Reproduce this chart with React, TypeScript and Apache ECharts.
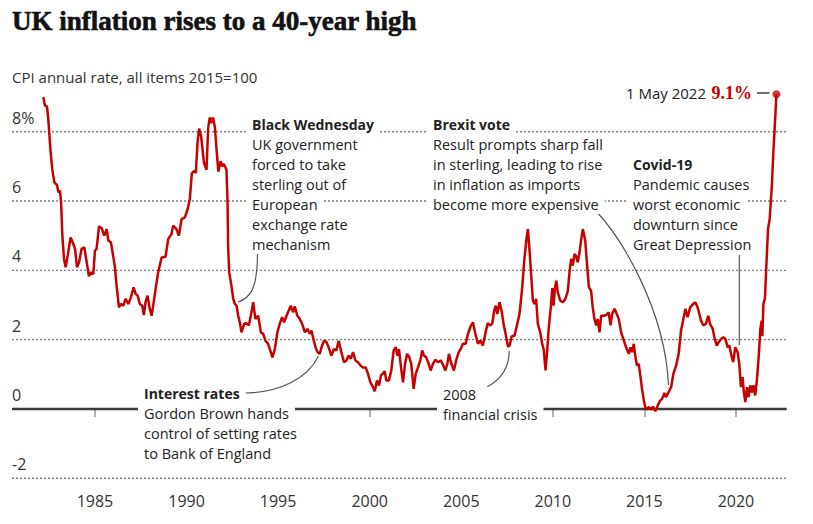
import React, { useEffect, useRef } from 'react';
import * as echarts from 'echarts';

// Decimal year of each reading and CPI annual rate (%)
const dates = [
  1982.18, 1982.27, 1982.38, 1982.45, 1982.58, 1982.67, 1982.78, 1982.93, 1983.0, 1983.09, 1983.15, 1983.22, 1983.31, 1983.4,
  1983.51, 1983.67, 1983.82, 1983.91, 1984.02, 1984.13, 1984.27, 1984.42, 1984.55, 1984.67, 1984.78, 1984.91, 1985.0, 1985.09,
  1985.22, 1985.37, 1985.51, 1985.64, 1985.73, 1985.87, 1986.02, 1986.09, 1986.18, 1986.31, 1986.42, 1986.55, 1986.67, 1986.82,
  1986.96, 1987.11, 1987.22, 1987.33, 1987.45, 1987.58, 1987.67, 1987.76, 1987.87, 1987.98, 1988.09, 1988.18, 1988.31, 1988.45,
  1988.64, 1988.85, 1989.0, 1989.18, 1989.27, 1989.45, 1989.58, 1989.73, 1989.91, 1990.06, 1990.18, 1990.29, 1990.42, 1990.51,
  1990.6, 1990.69, 1990.8, 1990.95, 1991.09, 1991.18, 1991.27, 1991.35, 1991.45, 1991.55, 1991.65, 1991.74, 1991.86, 1991.95,
  1992.04, 1992.18, 1992.24, 1992.27, 1992.33, 1992.45, 1992.55, 1992.64, 1992.73, 1992.82, 1992.91, 1993.0, 1993.15, 1993.27,
  1993.4, 1993.51, 1993.64, 1993.76, 1993.91, 1994.06, 1994.18, 1994.31, 1994.45, 1994.6, 1994.69, 1994.82, 1994.96, 1995.09,
  1995.22, 1995.33, 1995.46, 1995.58, 1995.69, 1995.82, 1995.91, 1996.05, 1996.18, 1996.31, 1996.46, 1996.6, 1996.73, 1996.82,
  1996.93, 1997.04, 1997.15, 1997.27, 1997.4, 1997.51, 1997.64, 1997.76, 1997.91, 1998.05, 1998.18, 1998.31, 1998.45, 1998.6,
  1998.73, 1998.85, 1998.97, 1999.09, 1999.22, 1999.36, 1999.51, 1999.62, 1999.78, 1999.91, 2000.04, 2000.18, 2000.27, 2000.4,
  2000.51, 2000.62, 2000.73, 2000.82, 2000.91, 2001.05, 2001.18, 2001.31, 2001.42, 2001.51, 2001.6, 2001.71, 2001.82, 2001.93,
  2002.04, 2002.15, 2002.27, 2002.4, 2002.51, 2002.64, 2002.77, 2002.87, 2002.96, 2003.09, 2003.22, 2003.33, 2003.45, 2003.58,
  2003.73, 2003.88, 2004.0, 2004.13, 2004.24, 2004.33, 2004.46, 2004.6, 2004.73, 2004.86, 2004.97, 2005.09, 2005.24, 2005.37,
  2005.51, 2005.64, 2005.77, 2005.91, 2006.04, 2006.18, 2006.33, 2006.44, 2006.59, 2006.69, 2006.8, 2006.88, 2006.97, 2007.09,
  2007.2, 2007.31, 2007.42, 2007.55, 2007.64, 2007.75, 2007.91, 2008.06, 2008.18, 2008.33, 2008.44, 2008.55, 2008.64, 2008.73,
  2008.84, 2008.91, 2009.0, 2009.09, 2009.18, 2009.31, 2009.42, 2009.51, 2009.6, 2009.68, 2009.78, 2009.89, 2009.97, 2010.04,
  2010.11, 2010.19, 2010.27, 2010.4, 2010.55, 2010.69, 2010.82, 2010.91, 2011.0, 2011.09, 2011.18, 2011.27, 2011.36, 2011.46,
  2011.55, 2011.64, 2011.77, 2011.88, 2011.97, 2012.09, 2012.18, 2012.27, 2012.37, 2012.45, 2012.55, 2012.64, 2012.77, 2012.91,
  2013.05, 2013.15, 2013.24, 2013.37, 2013.49, 2013.6, 2013.73, 2013.85, 2014.0, 2014.15, 2014.24, 2014.33, 2014.42, 2014.51,
  2014.6, 2014.69, 2014.79, 2014.87, 2014.97, 2015.09, 2015.24, 2015.37, 2015.46, 2015.6, 2015.73, 2015.86, 2015.97, 2016.09,
  2016.18, 2016.31, 2016.46, 2016.58, 2016.73, 2016.87, 2017.0, 2017.13, 2017.24, 2017.36, 2017.5, 2017.67, 2017.78, 2017.91,
  2018.0, 2018.09, 2018.22, 2018.36, 2018.49, 2018.58, 2018.73, 2018.82, 2018.95, 2019.06, 2019.19, 2019.31, 2019.42, 2019.55,
  2019.64, 2019.73, 2019.85, 2019.96, 2020.09, 2020.18, 2020.27, 2020.36, 2020.42, 2020.51, 2020.6, 2020.69, 2020.78, 2020.87,
  2020.96, 2021.05, 2021.14, 2021.24, 2021.33, 2021.4, 2021.44, 2021.5, 2021.58, 2021.66, 2021.75, 2021.84, 2021.96, 2022.04,
  2022.13, 2022.21,
];

const cpi = [
  9.0, 8.75, 8.73, 8.36, 7.4, 6.92, 6.54, 6.46, 6.25, 6.3, 5.96, 5.0, 4.33, 4.09,
  4.42, 4.95, 4.76, 4.62, 4.09, 4.23, 4.62, 4.66, 4.23, 3.83, 3.94, 3.9, 4.57, 4.62,
  5.27, 5.21, 5.0, 5.19, 4.86, 4.81, 4.33, 4.09, 3.56, 2.93, 3.03, 2.98, 3.18, 3.03,
  3.22, 3.51, 3.32, 3.27, 3.03, 2.98, 2.71, 3.08, 3.27, 2.93, 2.69, 2.98, 3.46, 3.94,
  4.37, 4.39, 4.9, 5.05, 5.29, 5.19, 5.0, 5.48, 5.53, 5.77, 6.06, 6.8, 6.87, 6.81,
  7.7, 8.09, 7.85, 7.11, 6.9, 8.1, 8.41, 8.25, 8.41, 8.12, 7.4, 6.85, 7.15, 7.0,
  7.07, 6.9, 5.96, 4.71, 3.94, 3.56, 3.18, 3.03, 2.98, 2.69, 2.5, 2.21, 2.46, 2.48,
  2.41, 2.69, 3.08, 2.6, 2.69, 2.21, 2.17, 1.97, 1.88, 1.64, 1.49, 1.73, 2.21, 2.46,
  2.65, 2.5, 2.69, 2.84, 2.98, 2.79, 2.96, 2.69, 2.6, 2.46, 2.21, 2.31, 2.17, 2.26,
  2.02, 1.78, 1.64, 1.59, 1.83, 1.97, 1.93, 1.78, 1.54, 1.73, 1.69, 1.97, 1.64, 1.35,
  1.4, 1.54, 1.45, 1.64, 1.4, 1.35, 1.25, 1.2, 1.2, 1.01, 0.77, 0.63, 0.51, 0.82,
  0.68, 0.97, 1.03, 1.09, 0.82, 0.82, 1.11, 1.69, 1.78, 1.54, 1.73, 1.2, 0.77, 1.3,
  1.59, 1.51, 1.3, 0.58, 1.01, 1.2, 1.42, 1.69, 1.54, 1.49, 1.3, 1.11, 1.3, 1.42,
  1.35, 1.4, 1.28, 1.11, 1.3, 1.59, 1.3, 1.11, 1.42, 1.64, 1.73, 1.88, 1.88, 2.17,
  2.38, 2.5, 2.17, 1.88, 1.97, 1.83, 2.21, 2.47, 2.41, 2.46, 2.84, 2.98, 2.74, 3.08,
  2.84, 2.46, 2.17, 1.8, 1.83, 2.09, 2.12, 2.46, 2.74, 3.51, 4.28, 4.86, 5.19, 4.57,
  3.7, 3.13, 3.03, 3.18, 2.46, 2.21, 1.88, 1.69, 1.11, 1.59, 2.36, 2.93, 3.49, 2.98,
  3.46, 3.7, 3.37, 3.13, 3.08, 3.18, 3.41, 3.94, 4.33, 4.14, 4.47, 4.42, 4.23, 4.52,
  4.9, 5.19, 4.86, 4.09, 3.51, 3.41, 2.93, 2.6, 2.41, 2.6, 2.21, 2.69, 2.69, 2.71,
  2.79, 2.41, 2.74, 2.89, 2.74, 2.6, 2.21, 2.02, 1.78, 1.59, 1.78, 1.64, 1.88, 1.49,
  1.25, 1.3, 0.92, 0.58, 0.24, -0.02, 0.05, -0.02, 0.07, -0.06, 0.1, 0.24, 0.29, 0.46,
  0.34, 0.48, 0.63, 1.01, 1.25, 1.59, 2.26, 2.6, 2.89, 2.65, 2.93, 3.03, 3.08, 2.93,
  2.74, 2.55, 2.41, 2.46, 2.69, 2.46, 2.31, 2.07, 1.83, 1.93, 2.02, 2.07, 2.02, 1.78,
  1.83, 1.59, 1.35, 1.78, 1.64, 1.3, 0.63, 0.92, 0.53, 0.2, 0.63, 0.34, 0.68, 0.48,
  0.68, 0.39, 0.82, 1.5, 2.3, 2.55, 2.1, 3.05, 3.18, 4.14, 5.19, 5.48, 6.44, 7.4,
  8.27, 9.08,
];

const yTickValues = [-2, 0, 2, 4, 6, 8];
const dottedLevels = [-2, 2, 4, 6, 8];
const xTickYears = [1985, 1990, 1995, 2000, 2005, 2010, 2015, 2020];
const xMin = 1980.47;
const xMax = 2022.77;

const titleText = 'UK inflation rises to a 40-year high';
const subtitleText = 'CPI annual rate, all items 2015=100';
const latestDateLabel = '1 May 2022';
const latestValueLabel = '9.1%';

const notes = {
  blackWednesday: ['Black Wednesday', 'UK government', 'forced to take', 'sterling out of', 'European', 'exchange rate', 'mechanism'],
  brexit: ['Brexit vote', 'Result prompts sharp fall', 'in sterling, leading to rise', 'in inflation as imports', 'become more expensive'],
  covid: ['Covid-19', 'Pandemic causes', 'worst economic', 'downturn since', 'Great Depression'],
  interest: ['Interest rates', 'Gordon Brown hands', 'control of setting rates', 'to Bank of England'],
  crisis: ['2008', 'financial crisis'],
};

const SANS = "'Open Sans', 'Noto Sans', sans-serif";
const SERIF = "'Liberation Serif', serif";
const RED = '#c70000';
const INK = '#222222';

function noteLines(lines: string[], x: number, y0: number, step: number, boldFirst: boolean) {
  return lines.map((t, i) => {
    const head = boldFirst && i === 0;
    return {
      type: 'text',
      z: 100,
      silent: true,
      style: {
        text: t,
        x,
        y: y0 + i * step,
        fill: INK,
        font: head ? `bold 14px ${SANS}` : `normal 14.5px ${SANS}`,
        verticalAlign: 'middle',
        align: 'left',
        lineHeight: 20,
        backgroundColor: '#ffffff',
        padding: [0, 6, 0, 6],
      },
    };
  });
}

function curve(x1: number, y1: number, cpx1: number, cpy1: number, cpx2: number, cpy2: number, x2: number, y2: number) {
  return {
    type: 'bezierCurve',
    z: 99,
    silent: true,
    shape: { x1, y1, cpx1, cpy1, cpx2, cpy2, x2, y2 },
    style: { stroke: '#555', lineWidth: 1.2, fill: 'none' },
  };
}

export default function App() {
  const ref = useRef<HTMLDivElement>(null);

  useEffect(() => {
    if (!ref.current) return;
    const chart = echarts.init(ref.current, null, { renderer: 'svg' });
    const lineData = dates.map((d, i) => [d, cpi[i]]);
    const last = lineData[lineData.length - 1];

    const gridSeries: any[] = dottedLevels.map((v) => ({
      type: 'line',
      data: [[xMin, v], [xMax, v]],
      symbol: 'none',
      silent: true,
      z: 1,
      lineStyle: { color: '#7f7f7f', width: 1.4, type: [2, 2] },
    }));
    gridSeries.push({
      type: 'line',
      data: [[xMin, 0], [xMax, 0]],
      symbol: 'none',
      silent: true,
      z: 1,
      lineStyle: { color: '#3a3a3a', width: 2.6 },
    });

    const option: any = {
      animation: false,
      grid: { left: 12, right: 26.3, top: 79.7, bottom: 45.7, outerBoundsMode: 'none' },
      xAxis: {
        type: 'value',
        min: xMin,
        max: xMax,
        axisLine: { show: false },
        splitLine: { show: false },
        axisTick: { show: true, customValues: xTickYears, length: 8, lineStyle: { color: '#999', width: 1.5 } },
        axisLabel: {
          customValues: xTickYears,
          formatter: (v: number) => String(v),
          color: '#333',
          fontSize: 16,
          fontFamily: SANS,
          margin: 15,
        },
      },
      yAxis: {
        type: 'value',
        min: -2,
        max: 9.5,
        axisLine: { show: false },
        axisTick: { show: false },
        splitLine: { show: false },
        axisLabel: {
          customValues: yTickValues,
          inside: true,
          margin: 0,
          formatter: (v: number) => (v === 8 ? '8%' : String(v)),
          color: '#333',
          fontSize: 16,
          fontFamily: SANS,
          verticalAlign: 'bottom',
          padding: [0, 0, 6, 0],
        },
      },
      series: [
        ...gridSeries,
        {
          type: 'line',
          data: lineData,
          symbol: 'none',
          z: 3,
          lineStyle: { color: RED, width: 2.5 },
        },
        {
          type: 'scatter',
          data: [last],
          symbol: 'circle',
          symbolSize: 8,
          z: 4,
          itemStyle: { color: RED },
        },
      ],
      graphic: [
        {
          type: 'text',
          z: 100,
          style: {
            text: titleText, x: 12, y: 21, font: `bold 27px ${SERIF}`, fill: '#121212',
            stroke: '#121212', lineWidth: 0.6, verticalAlign: 'middle',
          },
        },
        {
          type: 'text',
          z: 100,
          style: { text: subtitleText, x: 12, y: 77, font: `normal 15px ${SANS}`, fill: '#333', verticalAlign: 'middle' },
        },
        ...noteLines(notes.blackWednesday, 246, 124, 20, true),
        ...noteLines(notes.brexit, 427, 124, 20, true),
        ...noteLines(notes.covid, 627, 164, 20, true),
        ...noteLines(notes.interest, 138, 393, 20, true),
        ...noteLines(notes.crisis, 437, 394, 20.5, false),
        curve(257.5, 253, 257.5, 290, 250, 298, 238, 302),
        curve(595, 210, 622, 238, 665, 310, 668.5, 385),
        curve(243, 393, 280, 393, 308, 378, 318.5, 356),
        curve(487.3, 386.7, 500, 380, 509, 368, 509.3, 351),
        {
          type: 'line',
          z: 99,
          silent: true,
          shape: { x1: 739.3, y1: 255, x2: 739.3, y2: 345 },
          style: { stroke: '#555', lineWidth: 1.2 },
        },
        {
          type: 'line',
          z: 99,
          silent: true,
          shape: { x1: 757, y1: 93, x2: 769.5, y2: 93 },
          style: { stroke: '#333', lineWidth: 1.4 },
        },
        {
          type: 'text',
          z: 100,
          style: { text: latestDateLabel, x: 706, y: 93, font: `normal 15px ${SANS}`, fill: INK, align: 'right', verticalAlign: 'middle' },
        },
        {
          type: 'text',
          z: 100,
          style: { text: latestValueLabel, x: 752, y: 93, font: `bold 18px ${SERIF}`, fill: RED, align: 'right', verticalAlign: 'middle' },
        },
      ],
    };

    chart.setOption(option);
    return () => chart.dispose();
  }, []);

  return <div ref={ref} style={{ position: 'fixed', left: 0, top: 0, width: 813, height: 524, background: '#fff' }} />;
}
